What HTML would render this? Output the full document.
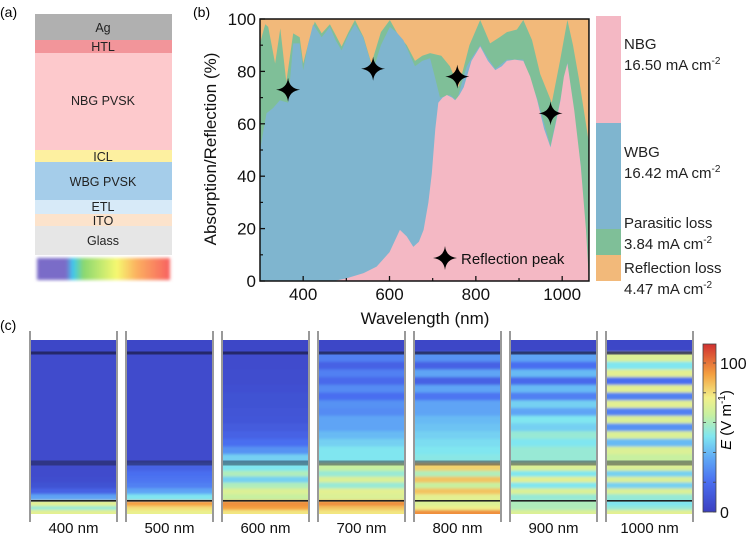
<!DOCTYPE html>
<html><head><meta charset="utf-8"><style>
html,body{margin:0;padding:0;background:#fff;}
svg{display:block;font-family:"Liberation Sans",Arial,sans-serif;}
</style></head><body>
<svg id="fig" width="749" height="536" viewBox="0 0 749 536" xmlns="http://www.w3.org/2000/svg">
<defs>
<linearGradient id="rainbow" x1="0" x2="1" y1="0" y2="0">
<stop offset="0" stop-color="#7a6cc8"/><stop offset="0.22" stop-color="#7a6cc8"/><stop offset="0.27" stop-color="#3fc8f0"/><stop offset="0.35" stop-color="#8ad870"/><stop offset="0.6" stop-color="#f6f870"/><stop offset="0.75" stop-color="#fbb060"/><stop offset="1" stop-color="#f86060"/>
</linearGradient>
<linearGradient id="cbar" x1="0" x2="0" y1="1" y2="0">
<stop offset="0" stop-color="#3b3fc0"/><stop offset="0.18" stop-color="#4a6ef0"/><stop offset="0.32" stop-color="#5fa8f5"/><stop offset="0.45" stop-color="#80e6f0"/><stop offset="0.58" stop-color="#c8f0a0"/><stop offset="0.68" stop-color="#f2f08a"/><stop offset="0.82" stop-color="#f4a040"/><stop offset="1" stop-color="#d03030"/>
</linearGradient>
<filter id="blur"><feGaussianBlur stdDeviation="1.5"/></filter>
<filter id="vblur" x="0" y="-0.05" width="1" height="1.1"><feGaussianBlur stdDeviation="0 1.2"/></filter>
</defs>

<text x="0" y="17" font-size="14">(a)</text>
<g font-size="12.5" text-anchor="middle" fill="#222">
<rect x="35" y="14" width="137" height="26" fill="#b0b0b0"/>
<text x="103" y="32">Ag</text>
<rect x="35" y="40" width="137" height="13" fill="#f2959a"/>
<text x="103" y="51">HTL</text>
<rect x="35" y="53" width="137" height="97" fill="#fdc9cc"/>
<text x="103" y="105">NBG  PVSK</text>
<rect x="35" y="150" width="137" height="12" fill="#fdf0a0"/>
<text x="103" y="161">ICL</text>
<rect x="35" y="162" width="137" height="38" fill="#a5cdea"/>
<text x="103" y="186">WBG PVSK</text>
<rect x="35" y="200" width="137" height="14" fill="#d7eaf8"/>
<text x="103" y="211">ETL</text>
<rect x="35" y="214" width="137" height="12" fill="#fce3cc"/>
<text x="103" y="225">ITO</text>
<rect x="35" y="226" width="137" height="29" fill="#e6e6e6"/>
<text x="103" y="245">Glass</text>
<rect x="37" y="258" width="133" height="22" fill="url(#rainbow)" filter="url(#blur)"/>
</g>

<text x="193" y="17" font-size="14">(b)</text>
<g id="chartB"></g>

<g font-size="15" fill="#222">
<rect x="596" y="16" width="25" height="107" fill="#f4b8c4"/>
<rect x="596" y="123" width="25" height="106" fill="#7fb5cf"/>
<rect x="596" y="229" width="25" height="26" fill="#7fbf98"/>
<rect x="596" y="255" width="25" height="26" fill="#f2b97a"/>
<text x="624" y="49">NBG</text>
<text x="624" y="70">16.50 mA  cm<tspan font-size="10" dy="-6">-2</tspan></text>
<text x="624" y="157">WBG</text>
<text x="624" y="178">16.42 mA  cm<tspan font-size="10" dy="-6">-2</tspan></text>
<text x="624" y="228">Parasitic loss</text>
<text x="624" y="249">3.84 mA  cm<tspan font-size="10" dy="-6">-2</tspan></text>
<text x="624" y="273">Reflection loss</text>
<text x="624" y="294">4.47 mA  cm<tspan font-size="10" dy="-6">-2</tspan></text>
</g>

<text x="0" y="330" font-size="14">(c)</text>
<g id="chartC"></g>
<g>
<rect x="703" y="344" width="13" height="168" fill="url(#cbar)" stroke="#444" stroke-width="0.8"/>
<g id="cbTicks"></g>
<text transform="translate(731,420) rotate(-90)" font-size="15" text-anchor="middle"><tspan font-style="italic">E</tspan> (V m<tspan font-size="10" dy="-6">-1</tspan><tspan dy="6">)</tspan></text>
</g>
</svg>

<script>
// ===== Panel (b) data =====
const nbgWl = [300,470,500,540,570,600,624,640,655,668,679,690,698,706,713,723,733,745,752,762,772,790,810,828,845,860,872,890,910,926,942,958,973,985,996,1004,1012,1028,1043,1055,1062];
const nbgVal = [0,0,1,3,5.5,11,19.5,17,13,15,19.5,30,41,58,68,70,71,70,69,71,74,84,89.5,84,80.5,82,84,84.5,84,78,69,58,51,60,69,78,83,65,43.6,20,0];
const wbgTopWl = [300,315,330,346,365,377,392,400,411,423,443,462,475,489,505,520,539,562,580,601,616,632,659,676,694,705,717,740,756,770,779,790,810,828,845,872,910,942,973,996,1012,1043,1062];
const wbgTopVal = [50,64,66,69,68,90.7,90.7,80.5,90,98,93,97,92,88,94,98,93,80.5,90,97,95,92,82,84,85,78,70,71,69,77,82,85,90,85,81,84.5,84.5,69.5,51.5,69.5,83.5,44,0];
const absWl = [300,312,319,327,335,347,361,377,392,400,414,427,443,462,475,489,505,520,540,558,580,601,620,640,659,676,694,720,740,760,785,810,833,855,872,895,910,930,949,976,995,1012,1025,1039,1062];
const absVal = [90.7,98,97,90,83,96.4,76,94.5,93,83,92,99,94.5,98,94,89.5,95,99.6,93,83,95,99.6,94,90,84,86,87,86,82,74,90,99.6,90.7,93,95,96,99.6,92,79,68,84,99.6,90,77,52.5];
const peakWl = [365,562,757,973];
const peakVal = [73,81,78,64];
const xTicks = [400,600,800,1000];
const xMinor = [500,700,900];
const yTicks = [0,20,40,60,80,100];
const yMinor = [10,30,50,70,90];

// ===== Panel (c) data =====
const fieldWl = [400,500,600,700,800,900,1000];
// rows: Ag(1), NBG(14), WBG(6), bottom(3)
const field400 = [3, 5,5,5,5,5,5,5,5,5,5,5,5,5,5, 5,5,6,8,15,35, 72,55,72];
const field500 = [3, 5,5,5,5,5,5,5,5,5,5,5,5,5,5, 15,20,22,25,35,50, 92,80,74];
const field600 = [3, 5,5,6,6,7,8,8,9,10,12,15,20,30,45, 50,60,45,60,70,65, 95,92,78];
const field700 = [3, 25,15,25,18,28,20,30,28,35,35,40,45,50,50, 65,55,70,55,72,70, 95,85,78];
const field800 = [3, 30,15,35,15,35,22,35,35,40,42,45,48,50,52, 82,60,85,65,85,72, 70,75,95];
const field900 = [3, 35,20,40,18,40,25,45,35,50,45,55,50,55,55, 70,50,72,50,70,55, 60,60,70];
const field1000 = [3, 70,50,72,20,72,25,72,25,70,30,70,40,70,65, 70,45,70,45,70,55, 50,55,72];
const fields = [field400,field500,field600,field700,field800,field900,field1000];
const cbTicks = [0,20,40,60,80,100];
const cbLabels = [0,100];

const NS = "http://www.w3.org/2000/svg";
const xs = w => 260 + (w - 300) * 0.4317;
const ys = v => 281 - v * 2.62;
function mk(tag, attrs, parent){ const e=document.createElementNS(NS,tag); for(const k in attrs) e.setAttribute(k,attrs[k]); parent.appendChild(e); return e; }
function areaPath(wl, val){
  let d = "M" + xs(wl[0]) + "," + ys(0);
  for(let i=0;i<wl.length;i++) d += "L" + xs(wl[i]).toFixed(1) + "," + ys(val[i]).toFixed(1);
  d += "L" + xs(wl[wl.length-1]) + "," + ys(0) + "Z";
  return d;
}
const gB = document.getElementById('chartB');
const clip = mk('clipPath',{id:'plotClip'},gB);
mk('rect',{x:260,y:ys(100),width:xs(1062)-260,height:ys(0)-ys(100)},clip);
const areas = mk('g',{'clip-path':'url(#plotClip)'},gB);
const refl = mk('rect',{x:260,y:ys(100),width:xs(1062)-260,height:ys(0)-ys(100),fill:'#f2b97a'},areas);


const par = mk('path',{d:areaPath(absWl,absVal),fill:'#7fbf98'},areas);


const wbg = mk('path',{d:areaPath(wbgTopWl,wbgTopVal),fill:'#7fb5cf'},areas);


const nbg = mk('path',{d:areaPath(nbgWl,nbgVal),fill:'#f4b8c4'},areas);



function star(cx, cy, r, parent){
  const w = r*0.1;
  const d = `M${cx},${cy-r} Q${cx+w},${cy-w} ${cx+r},${cy} Q${cx+w},${cy+w} ${cx},${cy+r} Q${cx-w},${cy+w} ${cx-r},${cy} Q${cx-w},${cy-w} ${cx},${cy-r}Z`;
  return mk('path',{d:d,fill:'#000'},parent);
}
for(let i=0;i<peakWl.length;i++){
  const s = star(xs(peakWl[i]), ys(peakVal[i]), 12, gB);
  
  
}
const ls = star(445, 258, 12, gB);


const lt = mk('text',{x:461,y:264,'font-size':15,fill:'#111'},gB);
lt.textContent = 'Reflection peak';



const frame = mk('rect',{x:260,y:ys(100),width:xs(1062)-260,height:ys(0)-ys(100),fill:'none',stroke:'#111','stroke-width':1.5},gB);


xTicks.forEach(t=>{
  mk('line',{x1:xs(t),x2:xs(t),y1:ys(0),y2:ys(0)-5,stroke:'#111','stroke-width':1.3},gB);
  const tx = mk('text',{x:xs(t),y:ys(0)+19,'font-size':17,'text-anchor':'middle',fill:'#111'},gB);
  tx.textContent = t;
  
  
});
xMinor.forEach(t=>mk('line',{x1:xs(t),x2:xs(t),y1:ys(0),y2:ys(0)-3,stroke:'#111','stroke-width':1.2},gB));
yTicks.forEach(t=>{
  mk('line',{x1:260,x2:265,y1:ys(t),y2:ys(t),stroke:'#111','stroke-width':1.3},gB);
  const ty = mk('text',{x:256,y:ys(t)+6,'font-size':17,'text-anchor':'end',fill:'#111'},gB);
  ty.textContent = t;
  
  
});
yMinor.forEach(t=>mk('line',{x1:260,x2:263,y1:ys(t),y2:ys(t),stroke:'#111','stroke-width':1.2},gB));
const xt = mk('text',{x:425,y:324,'font-size':17,'text-anchor':'middle',fill:'#111'},gB);
xt.textContent = 'Wavelength (nm)';


const yt = mk('text',{transform:'translate(216,149) rotate(-90)','font-size':17,'text-anchor':'middle',fill:'#111'},gB);
yt.textContent = 'Absorption/Reflection (%)';



const cmapStops = [[0,[59,63,192]],[20,[74,110,240]],[36,[95,168,245]],[50,[128,230,240]],[65,[200,240,160]],[76,[242,240,138]],[92,[244,160,64]],[112,[208,48,48]]];
function cmap(v){
  for(let i=1;i<cmapStops.length;i++){
    if(v<=cmapStops[i][0]){
      const a=cmapStops[i-1][0], ca=cmapStops[i-1][1], b=cmapStops[i][0], cb=cmapStops[i][1];
      const t=(v-a)/(b-a);
      return 'rgb('+ca.map((c,j)=>Math.round(c+(cb[j]-c)*t)).join(',')+')';
    }
  }
  return 'rgb(208,48,48)';
}
function rowBounds(){
  const b=[[340,352]];
  const n0=354,n1=462; for(let i=0;i<14;i++) b.push([n0+(n1-n0)*i/14, n0+(n1-n0)*(i+1)/14]);
  const w0=465,w1=500; for(let i=0;i<6;i++) b.push([w0+(w1-w0)*i/6, w0+(w1-w0)*(i+1)/6]);
  const g0=502,g1=514; for(let i=0;i<3;i++) b.push([g0+(g1-g0)*i/3, g0+(g1-g0)*(i+1)/3]);
  return b;
}
const rb = rowBounds();
const gC = document.getElementById('chartC');
const px0 = 30, pdx = 96, pw = 87;
fieldWl.forEach((wl,k)=>{
  const x0 = px0 + k*pdx;
  const panel = mk('g',{},gC);
  
  
  const vals = fields[k];
  const cp = mk('clipPath',{id:'pc'+k},panel);
  mk('rect',{x:x0,y:340,width:pw,height:174},cp);
  const outer = mk('g',{'clip-path':'url(#pc'+k+')'},panel);
  const cells = mk('g',{filter:'url(#vblur)'},outer);
  mk('rect',{x:x0,y:336,width:pw,height:18,fill:cmap(vals[0])},cells);
  mk('rect',{x:x0,y:352,width:pw,height:2,fill:cmap(vals[1])},cells);
  mk('rect',{x:x0,y:462,width:pw,height:3,fill:cmap(vals[15])},cells);
  mk('rect',{x:x0,y:500,width:pw,height:2,fill:cmap(vals[21])},cells);
  mk('rect',{x:x0,y:510,width:pw,height:8,fill:cmap(vals[23])},cells);
  vals.forEach((v,i)=>{
    const c = mk('rect',{x:x0,y:rb[i][0],width:pw,height:rb[i][1]-rb[i][0]+0.6,fill:cmap(v)},cells);
    
    
  });
  mk('rect',{x:x0,y:351.5,width:pw,height:3,fill:'#1a1a40',opacity:0.7},panel);
  mk('rect',{x:x0,y:460.5,width:pw,height:5,fill:'#1a1a30',opacity:0.45},panel);
  mk('rect',{x:x0,y:500,width:pw,height:1.6,fill:'#222'},panel);
  mk('line',{x1:x0,x2:x0,y1:331,y2:522,stroke:'#999','stroke-width':2},panel);
  mk('line',{x1:x0+pw,x2:x0+pw,y1:331,y2:522,stroke:'#999','stroke-width':2},panel);
  const lb = mk('text',{x:x0+pw/2,y:533,'font-size':15,'text-anchor':'middle',fill:'#111'},panel);
  lb.textContent = wl+' nm';
  
  
});
const cbY = v => 512 - v*1.49;
const cbT = document.getElementById('cbTicks');
cbTicks.forEach(t=>{
  mk('line',{x1:703,x2:706,y1:cbY(t),y2:cbY(t),stroke:'#444','stroke-width':0.8},cbT);
  mk('line',{x1:713,x2:716,y1:cbY(t),y2:cbY(t),stroke:'#444','stroke-width':0.8},cbT);
});
cbLabels.forEach(t=>{
  const e = mk('text',{x:720,y:cbY(t)+6,'font-size':16,fill:'#111'},cbT);
  e.textContent = t;
  
  
});
</script>
</body></html>
